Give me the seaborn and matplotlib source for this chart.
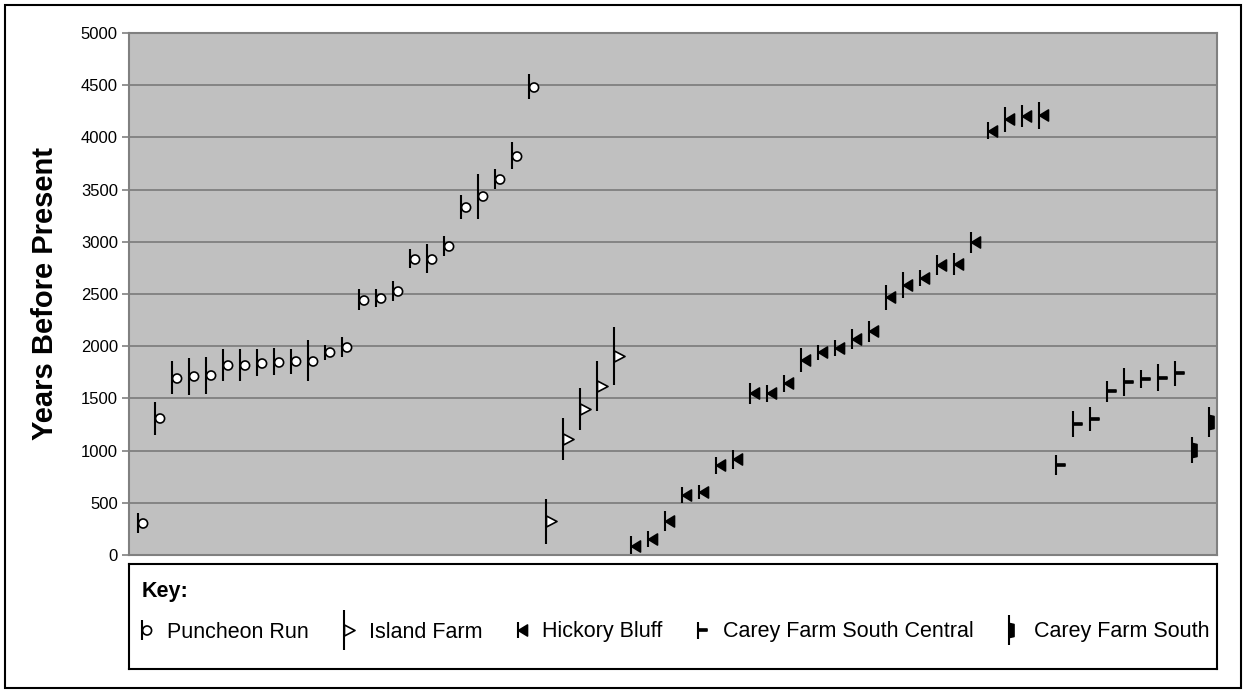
import numpy as np
import pandas as pd
import matplotlib
matplotlib.use("Agg")
import matplotlib.pyplot as plt
import seaborn as sns
from matplotlib.path import Path
from matplotlib.lines import Line2D
from matplotlib.legend_handler import HandlerTuple
from matplotlib.patches import Rectangle

# Radiocarbon ages (years before present) with their one-sigma ranges, site by site
puncheon_run_bp = [310, 1310, 1700, 1710, 1720, 1820, 1820, 1840, 1850, 1855, 1860, 1940, 1990,
                   2445, 2460, 2525, 2840, 2840, 2960, 3335, 3435, 3605, 3825, 4485]
puncheon_run_err = [95, 160, 155, 175, 175, 155, 155, 130, 130, 120, 195, 70, 95,
                    100, 85, 95, 90, 140, 95, 115, 215, 95, 130, 120]
island_farm_bp = [325, 1110, 1395, 1620, 1905]
island_farm_err = [215, 200, 200, 240, 275]
hickory_bluff_bp = [90, 155, 325, 575, 605, 860, 915, 1550, 1550, 1645, 1865, 1940, 1985, 2070, 2145,
                    2470, 2590, 2655, 2780, 2785, 2995, 4065, 4175, 4205, 4210]
hickory_bluff_err = [90, 75, 95, 80, 70, 80, 95, 100, 80, 80, 115, 70, 75, 95, 100,
                     120, 125, 75, 95, 105, 100, 80, 120, 105, 125]
carey_sc_bp = [865, 1255, 1300, 1570, 1660, 1685, 1700, 1740]
carey_sc_err = [95, 120, 115, 100, 135, 90, 125, 120]
carey_s_bp = [1005, 1275]
carey_s_err = [125, 140]

sites = ["Puncheon Run", "Island Farm", "Hickory Bluff", "Carey Farm South Central", "Carey Farm South"]
site_bp = [puncheon_run_bp, island_farm_bp, hickory_bluff_bp, carey_sc_bp, carey_s_bp]
site_err = [puncheon_run_err, island_farm_err, hickory_bluff_err, carey_sc_err, carey_s_err]
y_ticks = list(range(0, 5001, 500))

df = pd.concat(
    [pd.DataFrame({"site": s, "bp": b, "err": e}) for s, b, e in zip(sites, site_bp, site_err)],
    ignore_index=True,
)
df["pos"] = np.arange(len(df))


def closed(verts):
    codes = [Path.MOVETO] + [Path.LINETO] * (len(verts) - 2) + [Path.CLOSEPOLY]
    return Path(verts, codes)


# Flag-like symbols hung on the right-hand side of each age-range bar (units: pixels,
# with the bar itself running through x = 0)
symbols = {
    "Puncheon Run": (Path.circle((4.6, 0), 4.5), "white"),
    "Island Farm": (closed([(0, 5.5), (0, -5.5), (10.5, 0), (0, 5.5)]), "white"),
    "Hickory Bluff": (closed([(0, 0), (9, 5.5), (9, -5.5), (0, 0)]), "black"),
    "Carey Farm South Central": (closed([(0, -1.4), (9, -1.4), (9, 1.4), (0, 1.4), (0, -1.4)]), "black"),
    "Carey Farm South": (closed([(0, -7), (4.5, -6), (4.5, 6), (0, 7), (0, -7)]), "black"),
}
legend_bar_px = {"Puncheon Run": 20, "Island Farm": 40, "Hickory Bluff": 16,
                 "Carey Farm South Central": 17, "Carey Farm South": 30}

DPI = 100
W, H = 1247, 693


def marker_size(path):
    # markers are normalised so that the largest coordinate spans half the marker size
    return 2 * np.abs(path.vertices).max() * 72 / DPI


sns.set_theme(style="white")
plt.rcParams["font.family"] = ["Liberation Sans", "DejaVu Sans"]
plt.rcParams["text.color"] = "black"
plt.rcParams["axes.labelcolor"] = "black"
plt.rcParams["ytick.color"] = "black"

fig = plt.figure(figsize=(W / DPI, H / DPI), dpi=DPI)
ax = fig.add_axes([129 / W, 1 - 555 / H, 1088 / W, 522 / H])
ax.set_facecolor("#c0c0c0")

ax.vlines(df["pos"], df["bp"] - df["err"], df["bp"] + df["err"],
          colors="black", linewidth=1.5, zorder=2)
for site in sites:
    path, face = symbols[site]
    ms = marker_size(path)
    sns.scatterplot(data=df[df["site"] == site], x="pos", y="bp", marker=path, s=ms ** 2,
                    color=face, edgecolor="black", linewidth=1.2, ax=ax, zorder=3, legend=False)

ax.set_xlim(-0.5, len(df) - 0.5)
ax.set_ylim(0, 5000)
ax.set_xticks([])
ax.set_yticks(y_ticks)
ax.set_yticklabels([str(t) for t in y_ticks])
ax.yaxis.grid(True, color="#7a7a7a", linewidth=1.2)
ax.set_axisbelow(True)
ax.tick_params(axis="y", left=True, length=5, width=1.2, color="#808080",
               labelsize=12, pad=3, labelcolor="black")
for sp in ax.spines.values():
    sp.set_color("#808080")
    sp.set_linewidth(1.5)
ax.set_xlabel("")
ax.set_ylabel("Years Before Present", fontsize=21, fontweight="bold", color="black")
ax.yaxis.set_label_coords(-0.064, 0.5)

# Key box beneath the chart
key_ax = fig.add_axes([129 / W, 1 - 669 / H, 1088 / W, 105 / H])
key_ax.set_facecolor("white")
key_ax.set_xticks([])
key_ax.set_yticks([])
for sp in key_ax.spines.values():
    sp.set_color("black")
    sp.set_linewidth(1.5)
key_ax.text(142 / W, 1 - 592 / H, "Key:", transform=fig.transFigure, ha="left", va="center",
            fontsize=15.5, fontweight="bold", color="black")

handles = []
for site in sites:
    path, face = symbols[site]
    bar = Line2D([], [], linestyle="none", marker="|", color="black",
                 markersize=legend_bar_px[site] * 72 / DPI, markeredgewidth=1.5)
    sym = Line2D([], [], linestyle="none", marker=path, markersize=marker_size(path),
                 markerfacecolor=face, markeredgecolor="black", markeredgewidth=1.2)
    handles.append((bar, sym))

leg = key_ax.legend(handles, sites, loc="center left",
                    bbox_to_anchor=(131 / W, 1 - 632 / H), bbox_transform=fig.transFigure,
                    ncol=5, frameon=False, fontsize=15.5, labelcolor="black",
                    handlelength=1.0, handletextpad=0.65, columnspacing=1.15,
                    borderpad=0, borderaxespad=0,
                    handler_map={tuple: HandlerTuple(ndivide=1, pad=0)})

# Outer frame around the whole figure
fig.patches.append(Rectangle((5 / W, 5 / H), 1236 / W, 683 / H, transform=fig.transFigure,
                             fill=False, edgecolor="black", linewidth=1.5, figure=fig))

fig.savefig("out.png", dpi=DPI)
